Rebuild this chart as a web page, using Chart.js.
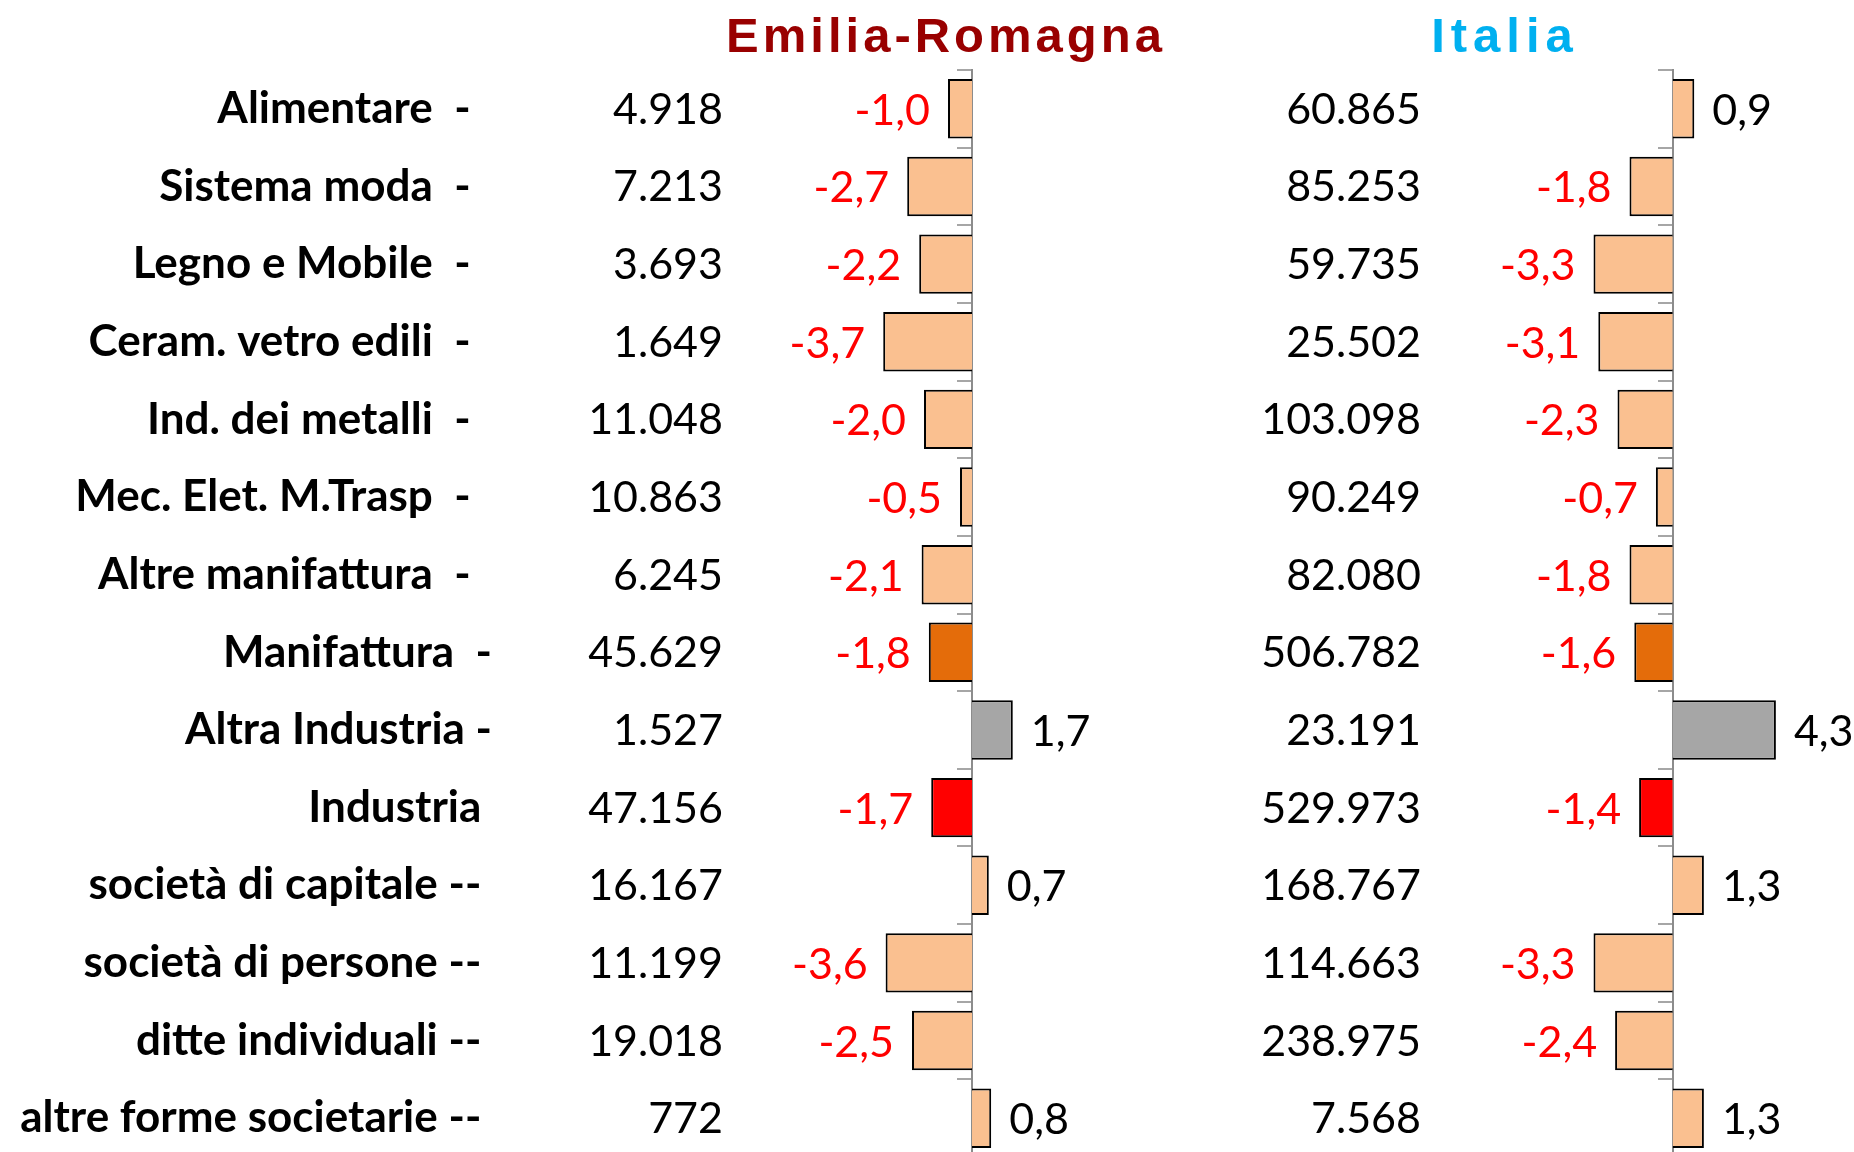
<!DOCTYPE html>
<html>
<head>
<meta charset="utf-8">
<script src="https://cdn.jsdelivr.net/npm/chart.js@4.4.1/dist/chart.umd.min.js"></script>
<style>
html, body { margin: 0; padding: 0; overflow: hidden; background: #ffffff; width: 1854px; height: 1152px; }
canvas { display: block; }
</style>
</head>
<body>
<canvas id="c" width="1854" height="1160"></canvas>
<script>
// ---------- DATA ----------
const categories = [
  'Alimentare  -', 'Sistema moda  -', 'Legno e Mobile  -', 'Ceram. vetro edili  -',
  'Ind. dei metalli  -', 'Mec. Elet. M.Trasp  -', 'Altre manifattura  -', 'Manifattura  -',
  'Altra Industria -', 'Industria', 'società di capitale --', 'società di persone --',
  'ditte individuali --', 'altre forme societarie --'
];
const countER = [4918, 7213, 3693, 1649, 11048, 10863, 6245, 45629, 1527, 47156, 16167, 11199, 19018, 772];
const countIT = [60865, 85253, 59735, 25502, 103098, 90249, 82080, 506782, 23191, 529973, 168767, 114663, 238975, 7568];
const varER = [-1.0, -2.7, -2.2, -3.7, -2.0, -0.5, -2.1, -1.8, 1.7, -1.7, 0.7, -3.6, -2.5, 0.8];
const varIT = [0.9, -1.8, -3.3, -3.1, -2.3, -0.7, -1.8, -1.6, 4.3, -1.4, 1.3, -3.3, -2.4, 1.3];
const panelTitles = ['Emilia-Romagna', 'Italia'];

// ---------- STYLE ----------
const PEACH = '#FAC090', DARKOR = '#E46C0A', GREY = '#A6A6A6', RED = '#FF0000';
const rowColors = [PEACH, PEACH, PEACH, PEACH, PEACH, PEACH, PEACH, DARKOR, GREY, RED, PEACH, PEACH, PEACH, PEACH];
const labelTrail = [2, 2, 2, 2, 2, 2, 2, 0, 0, 1, 1, 1, 1, 1];
const COUNT_X = [723, 1421];
const TITLE_X = [946, 1505];
const TITLE_SPACING = ['4px', '6px'];
const TITLE_COLORS = ['#990000', '#00B0F0'];
const NUM_FONT = '43px Lato';

function fmtInt(v) {
  return String(v).replace(/\B(?=(\d{3})+(?!\d))/g, '.');
}
function fmtDec(v) {
  return v.toFixed(1).replace('.', ',');
}

const annotPlugin = {
  id: 'annot',
  afterDraw(chart) {
    const ctx = chart.ctx;
    const ys = chart.scales.y;
    ctx.save();
    // count columns
    ctx.font = NUM_FONT;
    ctx.textBaseline = 'alphabetic';
    ctx.textAlign = 'right';
    ctx.fillStyle = '#000000';
    [countER, countIT].forEach((arr, k) => {
      arr.forEach((v, i) => ctx.fillText(fmtInt(v), COUNT_X[k], ys.getPixelForValue(i) + 15));
    });
    // value labels
    chart.data.datasets.forEach((ds, k) => {
      chart.getDatasetMeta(k).data.forEach((el, i) => {
        const v = ds.data[i];
        const neg = v < 0;
        ctx.fillStyle = neg ? '#FF0000' : '#000000';
        ctx.textAlign = neg ? 'right' : 'left';
        ctx.fillText(fmtDec(v), el.x + (neg ? -18 : 18), el.y + 16);
      });
    });
    // panel titles
    ctx.font = 'bold 49px "Liberation Sans", Arial, sans-serif';
    ctx.textAlign = 'center';
    panelTitles.forEach((t, k) => {
      try { ctx.letterSpacing = TITLE_SPACING[k]; } catch (e) {}
      ctx.fillStyle = TITLE_COLORS[k];
      ctx.fillText(t, TITLE_X[k], 52);
    });
    ctx.restore();
  }
};

const zeroPad = s => { s.paddingTop = 0; s.paddingBottom = 0; };
const axisLine = (pos) => ({
  type: 'category',
  position: pos,
  offset: true,
  z: 1,
  grid: { offset: true, drawOnChartArea: false, drawTicks: true, tickLength: 14, color: '#A6A6A6', lineWidth: 2 },
  border: { display: true, color: '#8C8C8C', width: 2 },
  ticks: { display: false, padding: 0 },
  afterFit: zeroPad
});

const barStyle = {
  backgroundColor: rowColors,
  borderColor: '#000000',
  borderWidth: 2,
  grouped: false,
  barPercentage: 0.765,
  categoryPercentage: 1.0
};

new Chart(document.getElementById('c'), {
  type: 'bar',
  data: {
    labels: categories,
    datasets: [
      Object.assign({ label: panelTitles[0], data: varER, xAxisID: 'xER', yAxisID: 'y' }, barStyle),
      Object.assign({ label: panelTitles[1], data: varIT, xAxisID: 'xIT', yAxisID: 'y' }, barStyle)
    ]
  },
  options: {
    indexAxis: 'y',
    responsive: false,
    animation: false,
    devicePixelRatio: 1,
    layout: { padding: { top: 70, bottom: 3, left: 0, right: 0 } },
    plugins: { legend: { display: false }, tooltip: { enabled: false }, title: { display: false } },
    scales: {
      y: {
        type: 'category',
        position: 'left',
        offset: true,
        grid: { display: false, drawTicks: false },
        border: { display: false },
        ticks: {
          autoSkip: false,
          padding: 8,
          color: '#000000',
          font: { family: 'Lato', weight: 'bold', size: 44 },
          callback: (v, i) => categories[i] + ' '.repeat(labelTrail[i])
        },
        afterFit: s => { s.width = 500; zeroPad(s); }
      },
      yER: axisLine({ xER: 0 }),
      yIT: axisLine({ xIT: 0 }),
      xER: { type: 'linear', display: false, min: -19.667, max: 36.75 },
      xIT: { type: 'linear', display: false, min: -48.86, max: 7.554 }
    }
  },
  plugins: [annotPlugin]
});
</script>
</body>
</html>
